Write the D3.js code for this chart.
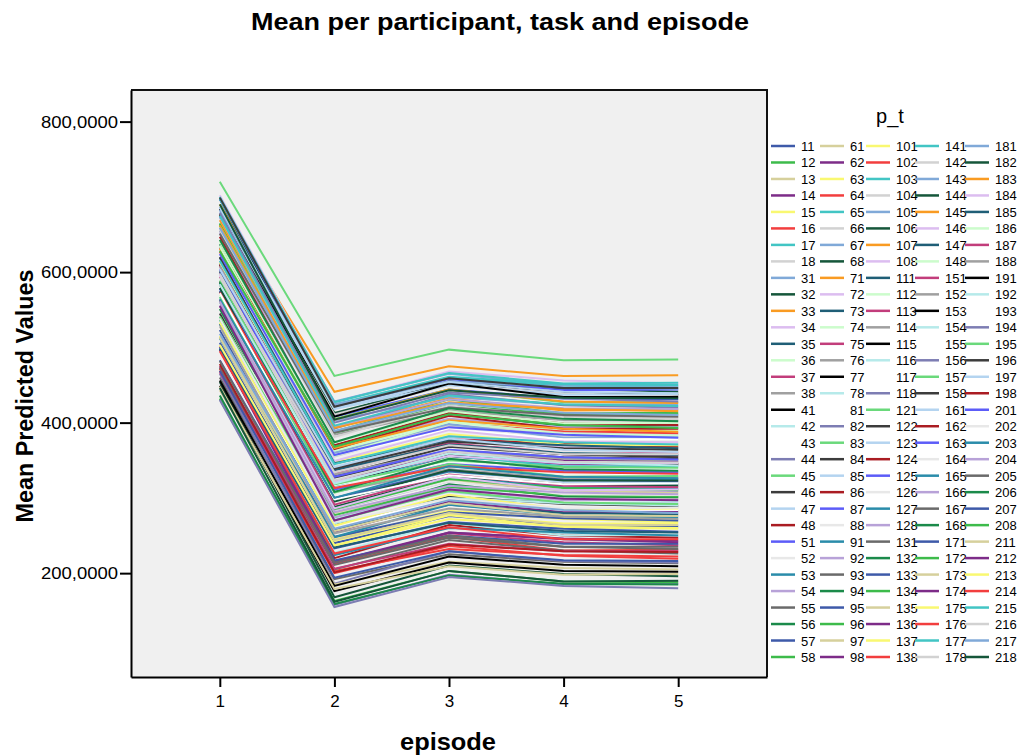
<!DOCTYPE html>
<html>
<head>
<meta charset="utf-8">
<script src="https://cdn.jsdelivr.net/npm/d3@7"></script>
<style>
  body { margin: 0; background: #fff; }
  svg { display: block; }
  text { font-family: Arial, "Liberation Sans", sans-serif; fill: #000; }
</style>
</head>
<body>
<div id="chart"></div>
<script>
// episodes on the x axis
const episodes = [1, 2, 3, 4, 5];

// participant_task codes (legend order)
const pt = [
  '11','12','13','14','15','16','17','18','31','32','33','34','35','36','37','38',
  '41','42','43','44','45','46','47','48','51','52','53','54','55','56','57','58',
  '61','62','63','64','65','66','67','68','71','72','73','74','75','76','77','78',
  '81','82','83','84','85','86','87','88','91','92','93','94','95','96','97','98',
  '101','102','103','104','105','106','107','108','111','112','113','114','115','116','117','118',
  '121','122','123','124','125','126','127','128','131','132','133','134','135','136','137','138',
  '141','142','143','144','145','146','147','148','151','152','153','154','155','156','157','158',
  '161','162','163','164','165','166','167','168','171','172','173','174','175','176','177','178',
  '181','182','183','184','185','186','187','188','191','192','193','194','195','196','197','198',
  '201','202','203','204','205','206','207','208','211','212','213','214','215','216','217','218'
];

// mean predicted value per p_t, episodes 1..5
const meanValues = [
  [506,240,276,264,262], [662,386,423,411,411], [538,280,316,303,300], [600,317,355,345,344],
  [515,245,283,272,268], [472,212,248,230,231], [700,421,460,449,447], [614,355,397,381,379],
  [673,403,434,424,424], [454,168,210,199,196], [690,441,475,462,463], [702,427,468,456,452],
  [562,298,329,317,318], [640,362,404,391,389], [594,333,373,358,356], [659,384,416,403,403],
  [684,411,455,440,437], [613,348,382,373,372], [583,309,344,334,330], [431,158,198,185,186],
  [720,462,497,483,484], [610,327,363,354,352], [536,273,308,293,293], [497,220,264,250,247],
  [675,408,444,432,431], [627,357,394,380,376], [563,299,335,324,325], [564,284,322,310,308],
  [460,192,225,215,213], [637,368,412,396,396], [523,248,281,273,270], [432,163,203,189,188],
  [555,286,323,310,306], [540,255,295,281,282], [502,236,277,261,259], [472,203,232,224,222],
  [586,316,356,342,342], [635,360,396,387,384], [687,428,465,450,449], [697,413,452,445,441],
  [664,395,432,416,417], [606,340,382,367,365], [531,258,291,280,278], [570,308,353,335,335],
  [609,337,370,363,360], [665,388,421,408,407], [588,319,357,349,345], [501,227,267,250,251],
  [582,317,349,340,338], [465,186,229,216,214], [665,405,444,427,427], [545,264,302,292,289],
  [567,300,338,321,320], [609,341,378,372,368], [697,421,458,443,444], [634,380,411,401,399],
  [561,286,328,314,312], [652,370,405,394,394], [475,211,247,235,232], [551,273,318,302,301],
  [499,233,268,259,255], [664,388,431,412,413], [443,185,215,207,205], [604,321,362,350,348],
  [513,243,278,266,266], [627,367,402,389,386], [700,424,461,451,450], [670,411,450,439,435],
  [630,360,398,380,381], [574,288,329,318,316], [669,404,444,428,426], [596,321,356,346,346],
  [601,337,371,360,357], [641,363,402,391,390], [475,214,253,241,237], [583,308,338,326,327],
  [456,183,222,211,209], [537,272,313,298,296], [631,357,391,378,378], [655,392,438,423,420],
  [589,318,350,341,340], [612,329,368,358,354], [681,418,450,437,438], [647,370,413,399,397],
  [578,311,345,336,334], [613,343,377,362,362], [512,248,291,277,274], [674,394,431,419,418],
  [473,205,244,230,226], [436,159,197,186,185], [575,300,336,324,322], [537,277,314,304,302],
  [513,244,280,264,264], [501,216,254,246,243], [613,347,385,371,370], [469,200,236,223,219],
  [697,427,466,452,453], [656,381,423,407,405], [683,424,455,447,445], [579,295,337,323,323],
  [662,393,427,418,415], [615,349,390,375,374], [619,346,377,370,366], [635,373,415,399,400],
  [563,291,331,316,314], [608,331,363,352,350], [677,408,452,434,434], [540,266,300,293,290],
  [528,263,298,285,284], [679,400,440,432,428], [567,307,345,328,329], [620,339,375,366,364],
  [686,419,454,441,439], [633,365,409,392,392], [604,328,364,354,351], [539,285,322,305,304],
  [499,224,260,254,250], [556,274,312,297,298], [651,387,420,410,408], [586,308,352,338,336],
  [483,217,250,239,239], [561,285,325,313,310], [514,256,293,277,276], [497,214,254,245,241],
  [533,263,304,285,286], [573,313,342,334,332], [675,396,436,424,422], [593,334,370,358,358],
  [659,389,426,413,410], [690,404,443,433,432], [631,366,403,392,388], [561,286,328,310,311],
  [498,234,267,256,254], [634,356,401,385,383], [467,206,239,229,229], [528,253,286,275,272],
  [449,176,214,203,202], [584,319,359,347,343], [572,298,330,318,319], [430,155,195,183,180],
  [541,270,309,294,292], [699,421,459,446,446], [604,341,379,364,361], [478,201,238,229,228],
  [624,357,394,384,380], [538,268,299,286,287], [564,300,342,328,326], [561,281,316,307,305],
  [482,214,250,235,235], [643,374,419,405,402], [469,194,229,217,216], [628,368,411,397,393],
  [448,179,209,198,199], [555,270,311,299,297], [503,237,272,262,260], [495,226,261,245,245],
  [615,345,382,374,371], [598,323,362,348,347], [518,259,297,284,280], [446,162,203,189,190]
];

// y tick values
const yTicks = [200, 400, 600, 800];

// line colours, cycled over the 160 series
const palette = [
  '#3e5aa9','#3dbb4b','#d6d09c','#7d2c88','#f9f871','#f23e3e','#42c5c4','#d2d2d2',
  '#80a9d8','#15563a','#f99b22','#dcbdf0','#1f5e76','#ccfccc','#c23d7b','#a0a0a0',
  '#000000','#b6eaea','#ffffff','#7d7db3','#6ad97b','#3c3c3c','#b4d4f0','#aa1c22',
  '#5c5cf8','#e8e8e8','#2a8caa','#b8a2d8','#6a6a6a','#1b8a4a'
];

const width = 1020, height = 756;
const plot = { left: 131, right: 767, top: 90, bottom: 677 };

const svg = d3.select('#chart').append('svg')
  .attr('width', width)
  .attr('height', height);

const x = d3.scaleLinear().domain([0.225, 5.775]).range([plot.left, plot.right]);
const y = d3.scaleLinear().domain([62, 842]).range([plot.bottom, plot.top]);
const color = d3.scaleOrdinal().domain(pt).range(palette);
const fmt = d3.formatLocale({ decimal: ',', thousands: '.', grouping: [3], currency: ['', ''] }).format('.4f');

// plot background
svg.append('rect')
  .attr('x', plot.left).attr('y', plot.top)
  .attr('width', plot.right - plot.left).attr('height', plot.bottom - plot.top)
  .attr('fill', '#f0f0f0');

// series lines
const line = d3.line()
  .x((d, i) => x(episodes[i]))
  .y(d => y(d));

svg.append('g')
  .selectAll('path')
  .data(pt)
  .join('path')
  .attr('d', (d, i) => line(meanValues[i]))
  .attr('fill', 'none')
  .attr('stroke', d => color(d))
  .attr('stroke-width', 2);

// frame (top and right)
svg.append('path')
  .attr('d', `M${plot.left},${plot.top}H${plot.right}V${plot.bottom}`)
  .attr('fill', 'none')
  .attr('stroke', '#111')
  .attr('stroke-width', 2);

// y axis
const gy = svg.append('g')
  .attr('transform', `translate(${plot.left},0)`)
  .call(d3.axisLeft(y).tickValues(yTicks).tickFormat(fmt).tickSize(11).tickSizeOuter(0).tickPadding(2));
gy.select('.domain').attr('stroke', '#000').attr('stroke-width', 2);
gy.selectAll('.tick line').attr('stroke', '#000').attr('stroke-width', 2);
gy.selectAll('.tick text')
  .attr('font-size', 17)
  .attr('font-family', 'Arial, "Liberation Sans", sans-serif')
  .attr('textLength', 77)
  .attr('lengthAdjust', 'spacingAndGlyphs');

// x axis
const gx = svg.append('g')
  .attr('transform', `translate(0,${plot.bottom})`)
  .call(d3.axisBottom(x).tickValues(episodes).tickFormat(d3.format('d')).tickSize(10).tickSizeOuter(0).tickPadding(8));
gx.select('.domain').attr('stroke', '#000').attr('stroke-width', 2);
gx.selectAll('.tick line').attr('stroke', '#000').attr('stroke-width', 2);
gx.selectAll('.tick text')
  .attr('font-size', 17)
  .attr('font-family', 'Arial, "Liberation Sans", sans-serif');

// title and axis titles
svg.append('text')
  .attr('x', 500).attr('y', 30)
  .attr('text-anchor', 'middle')
  .attr('font-size', 24).attr('font-weight', 'bold')
  .attr('textLength', 498).attr('lengthAdjust', 'spacingAndGlyphs')
  .text('Mean per participant, task and episode');

svg.append('text')
  .attr('transform', 'translate(33,396) rotate(-90)')
  .attr('text-anchor', 'middle')
  .attr('font-size', 23).attr('font-weight', 'bold')
  .attr('textLength', 253).attr('lengthAdjust', 'spacingAndGlyphs')
  .text('Mean Predicted Values');

svg.append('text')
  .attr('x', 448).attr('y', 750)
  .attr('text-anchor', 'middle')
  .attr('font-size', 24).attr('font-weight', 'bold')
  .attr('textLength', 96).attr('lengthAdjust', 'spacingAndGlyphs')
  .text('episode');

// legend
const legend = svg.append('g');
legend.append('text')
  .attr('x', 890).attr('y', 123)
  .attr('text-anchor', 'middle')
  .attr('font-size', 20)
  .text('p_t');

const colX = [771, 820, 866, 915, 965];
const rowY = d3.scaleLinear().domain([0, 31]).range([146, 657]);

const item = legend.selectAll('g.item')
  .data(pt)
  .join('g')
  .attr('class', 'item')
  .attr('transform', (d, i) => `translate(${colX[Math.floor(i / 32)]},${rowY(i % 32)})`);

item.append('line')
  .attr('x1', 0).attr('x2', 24)
  .attr('stroke', d => color(d))
  .attr('stroke-width', 2.5);

item.append('text')
  .attr('x', 30).attr('y', 5)
  .attr('font-size', 13)
  .text(d => d);
</script>
</body>
</html>
